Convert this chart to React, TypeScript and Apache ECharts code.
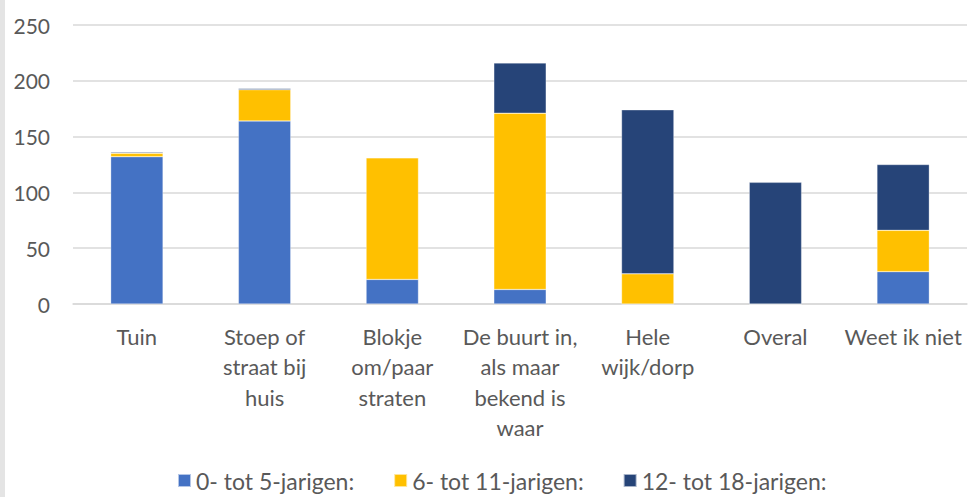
import React, { useEffect, useRef } from "react";
import * as echarts from "echarts";

const categories = [
  "Tuin",
  "Stoep of\nstraat bij\nhuis",
  "Blokje\nom/paar\nstraten",
  "De buurt in,\nals maar\nbekend is\nwaar",
  "Hele\nwijk/dorp",
  "Overal",
  "Weet ik niet",
];
const seriesNames = ["0- tot 5-jarigen:", "6- tot 11-jarigen:", "12- tot 18-jarigen:"];
const age0to5 = [132, 164, 22, 13, 0, 0, 29];
const age6to11 = [3, 28, 109, 158, 27, 0, 37];
const age12to18 = [1, 1, 0, 45, 147, 109, 59];
const colors = ["#4472C4", "#FFC000", "#264478"];

export default function App() {
  const ref = useRef<HTMLDivElement>(null);
  useEffect(() => {
    if (!ref.current) return;
    const chart = echarts.init(ref.current, undefined, { renderer: "svg" });
    const font = "Lato, 'Open Sans', sans-serif";
    const data = [age0to5, age6to11, age12to18];
    chart.setOption({
      animation: false,
      backgroundColor: "#ffffff",
      graphic: [
        {
          type: "rect",
          left: 0,
          top: 0,
          shape: { width: 5, height: 497 },
          style: { fill: "#e4e4e4" },
          silent: true,
        },
      ],
      grid: { left: 73, right: 3, top: 25, bottom: 193, containLabel: false },
      legend: {
        bottom: 0,
        left: 172,
        itemWidth: 13,
        itemHeight: 13,
        itemGap: 39,
        icon: "rect",
        textStyle: { color: "#595959", fontSize: 23, fontFamily: font },
        data: seriesNames,
      },
      xAxis: {
        type: "category",
        data: categories,
        axisLine: { show: true, lineStyle: { color: "#d9d9d9", width: 1.5 } },
        axisTick: { show: false },
        axisLabel: {
          color: "#595959",
          fontSize: 22,
          fontFamily: font,
          lineHeight: 30.5,
          margin: 17,
          interval: 0,
        },
      },
      yAxis: {
        type: "value",
        min: 0,
        max: 250,
        interval: 50,
        axisLine: { show: false },
        axisTick: { show: false },
        splitLine: { lineStyle: { color: "#d9d9d9", width: 1.5 } },
        axisLabel: { color: "#595959", fontSize: 21, fontFamily: font, margin: 23 },
      },
      series: seriesNames.map((name, i) => ({
        name,
        type: "bar",
        stack: "total",
        barWidth: "41%",
        data: data[i],
        itemStyle: { color: colors[i], borderColor: "rgba(255,255,255,0.6)", borderWidth: 0.5 },
      })),
    });
    return () => chart.dispose();
  }, []);
  return (
    <div
      ref={ref}
      style={{ position: "absolute", left: 0, top: 0, width: 970, height: 497 }}
    />
  );
}
